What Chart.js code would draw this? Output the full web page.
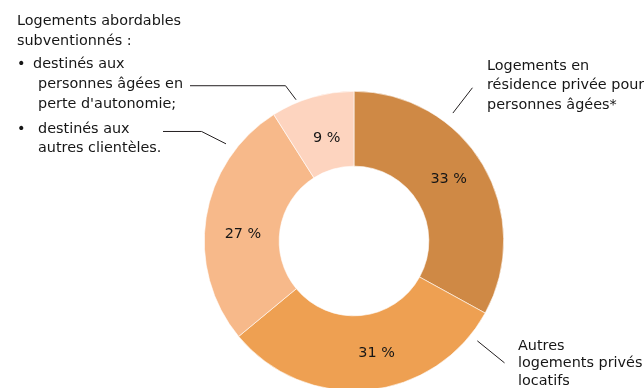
<!DOCTYPE html>
<html lang="fr">
<head>
<meta charset="utf-8">
<script src="https://cdn.jsdelivr.net/npm/chart.js@4/dist/chart.umd.min.js"></script>
<style>
  html, body { margin: 0; padding: 0; background: #fff; overflow: hidden; }
  #wrap { position: absolute; left: 0; top: 0; width: 644px; height: 400px; }
</style>
</head>
<body>
<div id="wrap"><canvas id="chart" width="644" height="400"></canvas></div>
<script>
// Répartition des logements (en %), dans le sens horaire depuis midi
const categories = [
  "Logements en résidence privée pour personnes âgées*",
  "Autres logements privés locatifs",
  "Logements abordables subventionnés destinés aux autres clientèles",
  "Logements abordables subventionnés destinés aux personnes âgées en perte d'autonomie"
];
const shares = [33, 31, 27, 9];
const sliceColors = ["#CF8945", "#EEA052", "#F7B98A", "#FDD4BF"];

// Textes d'annotation autour de l'anneau
const leftTitle = ["Logements abordables", "subventionnés :"];
const bulletOne = ["destinés aux", "personnes âgées en", "perte d'autonomie;"];
const bulletTwo = ["destinés aux", "autres clientèles."];
const rightTop = ["Logements en", "résidence privée pour", "personnes âgées*"];
const rightBottom = ["Autres", "logements privés", "locatifs"];

const FONT = '14.4px "DejaVu Sans", Verdana, sans-serif';
const INK = "#161616";

function polar(cx, cy, angDeg, r) {
  const a = (angDeg - 90) * Math.PI / 180;
  return { x: cx + r * Math.cos(a), y: cy + r * Math.sin(a) };
}

const annotations = {
  id: "annotations",
  afterDatasetsDraw(chart) {
    const ctx = chart.ctx;
    const arcs = chart.getDatasetMeta(0).data;
    const cx = arcs[0].x, cy = arcs[0].y;
    const R = arcs[0].outerRadius, r0 = arcs[0].innerRadius;
    ctx.save();
    ctx.font = FONT;
    ctx.fillStyle = INK;
    ctx.textBaseline = "middle";

    // valeurs dans l'anneau (petits décalages d'angle et de rayon)
    const nudgeAngle = [-2.7, -6, -5.4, 1.3];
    const nudgeRadius = [1, 2, -1, -6];
    ctx.textAlign = "center";
    arcs.forEach((arc, i) => {
      const mid = ((arc.startAngle + arc.endAngle) / 2) * 180 / Math.PI + 90 + nudgeAngle[i];
      const p = polar(cx, cy, mid, (R + r0) / 2 + nudgeRadius[i]);
      ctx.fillText(shares[i] + " %", p.x, p.y);
    });

    // traits de rappel
    ctx.strokeStyle = "#231f20";
    ctx.lineWidth = 1;
    const leaders = [
      { a: 37.7, from: R + 12, to: R + 44 },
      { a: 129, from: R + 9, to: R + 44 },
      { a: 337.7, from: R + 3, to: R + 20, tail: 190 },
      { a: 307.2, from: R + 11, to: R + 38, tail: 163 }
    ];
    leaders.forEach(l => {
      const p0 = polar(cx, cy, l.a, l.from);
      const p1 = polar(cx, cy, l.a - (l.tail ? 1.5 : 0), l.to);
      ctx.beginPath();
      ctx.moveTo(p0.x, p0.y);
      ctx.lineTo(p1.x, p1.y);
      if (l.tail) ctx.lineTo(l.tail, p1.y);
      ctx.stroke();
    });

    // blocs de texte
    ctx.textAlign = "left";
    leftTitle.forEach((t, i) => ctx.fillText(t, 17, 21 + i * 20));
    ctx.fillText("•", 17, 64.5);
    ctx.fillText(bulletOne[0], 33, 64.5);
    ctx.fillText(bulletOne[1], 38, 84);
    ctx.fillText(bulletOne[2], 38, 104);
    ctx.fillText("•", 17, 129);
    bulletTwo.forEach((t, i) => ctx.fillText(t, 38, 129 + i * 19.5));
    rightTop.forEach((t, i) => ctx.fillText(t, 487, 66 + i * 19.5));
    rightBottom.forEach((t, i) => ctx.fillText(t, 518, 346 + i * 17.5));
    ctx.restore();
  }
};

new Chart(document.getElementById("chart"), {
  type: "doughnut",
  data: {
    labels: categories,
    datasets: [{
      data: shares,
      backgroundColor: sliceColors,
      borderColor: "#ffffff",
      borderWidth: 0.6
    }]
  },
  options: {
    responsive: false,
    animation: false,
    cutout: "50%",
    layout: { padding: { left: 204, right: 140, top: 91, bottom: 9 } },
    plugins: { legend: { display: false }, tooltip: { enabled: false } }
  },
  plugins: [annotations]
});
</script>
</body>
</html>
